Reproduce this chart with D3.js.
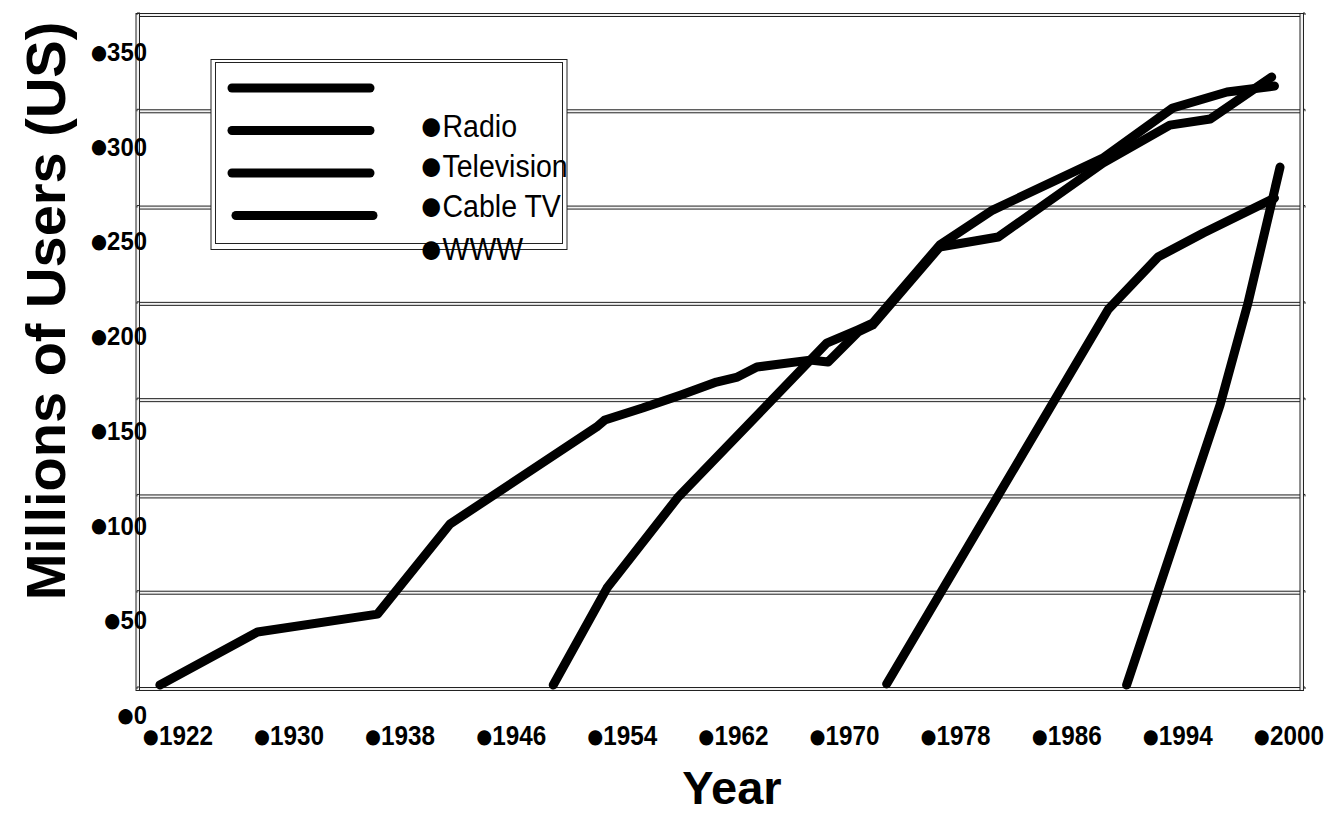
<!DOCTYPE html>
<html>
<head>
<meta charset="utf-8">
<script src="https://cdn.jsdelivr.net/npm/d3@7"></script>
<style>
  html, body { margin: 0; padding: 0; background: #fff; }
  svg { display: block; }
  text { font-family: "Liberation Sans", Arial, sans-serif; fill: #000; }
</style>
</head>
<body>
<svg id="chart" width="1326" height="814"></svg>
<script>
// Category labels along the bottom and value labels along the left
const yearLabels = ["1922", "1930", "1938", "1946", "1954", "1962", "1970", "1978", "1986", "1994", "2000"];
const userTicks = [0, 50, 100, 150, 200, 250, 300, 350];

const seriesNames = ["Radio", "Television", "Cable TV", "WWW"];

// Millions of US users per medium
const radioYears = [1920.7, 1927.7, 1936.3, 1941.5, 1952.0, 1952.6, 1955.3, 1958.0, 1960.6, 1962.1, 1963.5, 1967.3, 1968.6, 1970.75, 1971.8, 1976.6, 1980.8, 1988.3, 1993.1, 1996.0, 2000.4];
const radioUsers = [2.1, 29.6, 38.9, 85.7, 136.0, 139.7, 145.9, 152.6, 159.4, 162.0, 167.2, 170.8, 169.8, 185.4, 189.0, 229.5, 234.7, 273.1, 292.8, 296.0, 317.8];

const tvYears = [1948.9, 1952.75, 1957.8, 1968.5, 1970.7, 1971.8, 1976.6, 1980.4, 1988.3, 1993.3, 1997.2, 2000.6];
const tvUsers = [2.1, 52.4, 99.2, 179.6, 186.4, 190.0, 230.5, 248.7, 275.7, 301.7, 310.0, 313.1];

const cableYears = [1972.8, 1988.7, 1992.25, 1995.5, 2000.6];
const cableUsers = [2.6, 197.3, 224.3, 236.8, 254.9];

const wwwYears = [1990.0, 1996.7, 1998.7, 2001.0];
const wwwUsers = [2.1, 147.5, 200.4, 271.0];

const series = [
  { name: seriesNames[0], years: radioYears, users: radioUsers },
  { name: seriesNames[1], years: tvYears, users: tvUsers },
  { name: seriesNames[2], years: cableYears, users: cableUsers },
  { name: seriesNames[3], years: wwwYears, users: wwwUsers }
];

const svg = d3.select("#chart");

// Plot frame
const plotLeft = 137, plotRight = 1302, plotTop = 15, plotBottom = 689;

const x = d3.scaleLinear().domain([1922, 2002]).range([178, 1294]);
const y = d3.scaleLinear().domain([0, 350]).range([plotBottom, plotTop]);

// value labels sit on their own evenly spaced column
const yLabel = d3.scaleLinear().domain([0, 350]).range([715, 52]);
const xLabel = d3.scalePoint().domain(yearLabels).range([177, 1288]);

// writes "●label": a large round bullet followed by the label text
function bulletText(sel, opts) {
  sel.append("tspan")
    .attr("font-size", opts.bulletSize)
    .attr("dy", opts.bulletDrop)
    .text("\u25CF");
  sel.append("tspan")
    .attr("font-size", opts.size)
    .attr("dx", opts.gap)
    .attr("dy", -opts.bulletDrop)
    .text(opts.text);
}

const frame = svg.append("g").attr("class", "frame");

// double-ruled horizontal grid lines (the top and bottom ones close the frame)
frame.selectAll("rect.grid")
  .data(userTicks)
  .join("rect")
  .attr("class", "grid")
  .attr("x", plotLeft)
  .attr("y", d => y(d) - 1.5)
  .attr("width", plotRight - plotLeft)
  .attr("height", 3)
  .attr("fill", "#f2f2f2")
  .attr("stroke", "#222")
  .attr("stroke-width", 1);

// double-ruled left and right sides
[plotLeft - 1, plotRight - 2].forEach(px => {
  frame.append("rect")
    .attr("x", px)
    .attr("y", plotTop - 1.5)
    .attr("width", 3.5)
    .attr("height", plotBottom - plotTop + 3)
    .attr("fill", "#f2f2f2")
    .attr("stroke", "#222")
    .attr("stroke-width", 1);
});

// small end hooks on each grid line
frame.selectAll("path.hook")
  .data(userTicks)
  .join("path")
  .attr("class", "hook")
  .attr("d", d => `M${plotLeft + 3},${y(d) - 2} l-3,0 l0,2 M${plotRight + 1},${y(d) - 2} l2,0 l0,2`)
  .attr("fill", "none")
  .attr("stroke", "#222")
  .attr("stroke-width", 1);

// Legend box (white, double-ruled)
const legend = svg.append("g").attr("class", "legend");
legend.append("rect")
  .attr("x", 211).attr("y", 59.5).attr("width", 356).attr("height", 190)
  .attr("fill", "#fff").attr("stroke", "#222").attr("stroke-width", 1);
legend.append("rect")
  .attr("x", 215.5).attr("y", 62.5).attr("width", 347).attr("height", 181)
  .attr("fill", "none").attr("stroke", "#222").attr("stroke-width", 1);

legend.selectAll("line.key")
  .data(series)
  .join("line")
  .attr("class", "key")
  .attr("x1", (d, i) => i === 3 ? 236 : 232)
  .attr("x2", (d, i) => i === 3 ? 373 : 370)
  .attr("y1", (d, i) => 88 + i * 42.5)
  .attr("y2", (d, i) => 88 + i * 42.5)
  .attr("stroke", "#000")
  .attr("stroke-width", 9)
  .attr("stroke-linecap", "round");

// Series lines
const line = d3.line()
  .x(d => x(d[0]))
  .y(d => y(d[1]));

svg.append("g").attr("class", "series")
  .selectAll("path")
  .data(series)
  .join("path")
  .attr("d", s => line(d3.zip(s.years, s.users)))
  .attr("fill", "none")
  .attr("stroke", "#000")
  .attr("stroke-width", 9)
  .attr("stroke-linecap", "round")
  .attr("stroke-linejoin", "round");

// Legend labels (slightly condensed)
legend.selectAll("text")
  .data(series)
  .join("text")
  .attr("transform", (d, i) => `translate(419,${[137, 177, 217, 260][i]}) scale(0.92,1)`)
  .each(function (d) {
    bulletText(d3.select(this), { text: d.name, size: 31, bulletSize: 44, bulletDrop: 3, gap: -1 });
  });

// Value labels
svg.append("g").attr("class", "y-labels")
  .selectAll("text")
  .data(userTicks)
  .join("text")
  .attr("transform", d => `translate(147,${yLabel(d) + 9}) scale(0.92,1)`)
  .attr("text-anchor", "end")
  .attr("font-weight", "bold")
  .each(function (d) {
    bulletText(d3.select(this), { text: String(d), size: 26, bulletSize: 36, bulletDrop: 2.5, gap: -2 });
  });

// Year labels
svg.append("g").attr("class", "x-labels")
  .selectAll("text")
  .data(yearLabels)
  .join("text")
  .attr("transform", d => `translate(${xLabel(d)},745) scale(0.9,1)`)
  .attr("text-anchor", "middle")
  .attr("font-weight", "bold")
  .each(function (d) {
    bulletText(d3.select(this), { text: d, size: 27, bulletSize: 36, bulletDrop: 2.5, gap: -2 });
  });

// Axis titles
svg.append("text")
  .attr("transform", "translate(65,311) rotate(-90)")
  .attr("text-anchor", "middle")
  .attr("font-size", 56)
  .attr("font-weight", "bold")
  .text("Millions of Users (US)");

svg.append("text")
  .attr("x", 732)
  .attr("y", 804)
  .attr("text-anchor", "middle")
  .attr("font-size", 47)
  .attr("font-weight", "bold")
  .text("Year");
</script>
</body>
</html>
